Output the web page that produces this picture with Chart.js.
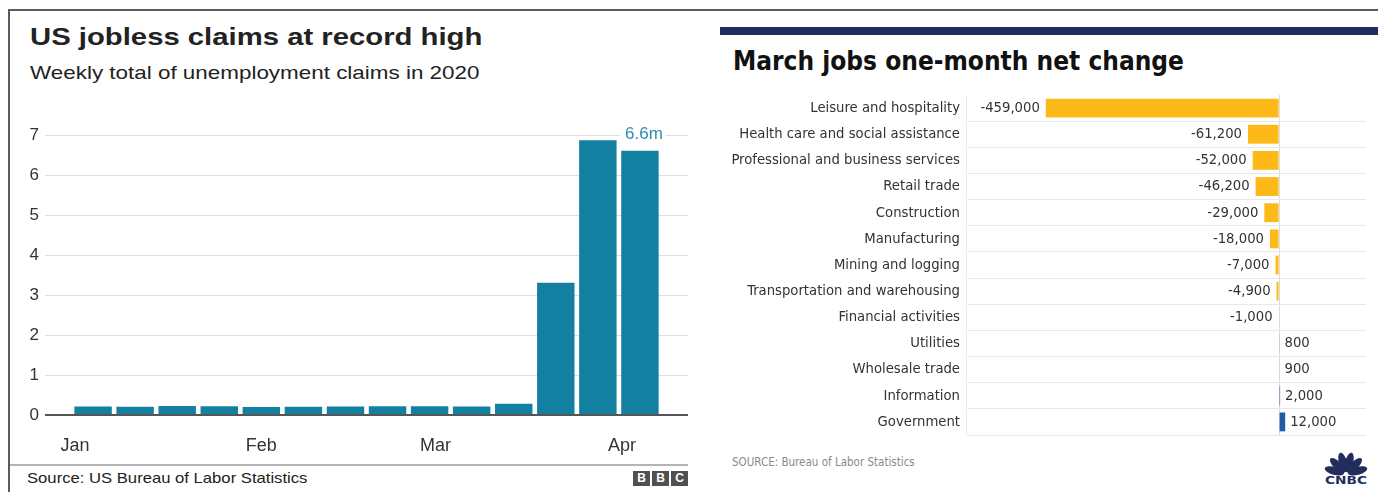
<!DOCTYPE html>
<html>
<head>
<meta charset="utf-8">
<script src="https://cdn.jsdelivr.net/npm/chart.js@4.4.1/dist/chart.umd.min.js"></script>
<style>
  body { margin: 0; background: #fff; width: 1378px; height: 492px; overflow: hidden; position: relative;
         font-family: "Liberation Sans", Arial, Helvetica, sans-serif; }
  .abs { position: absolute; white-space: nowrap; line-height: 1; }
  .wide { transform-origin: 0 0; }
  #frame-top { left: 8px; top: 9px; width: 1370px; height: 0; border-top: 2px solid #5c5c5c; }
  #frame-left { left: 8px; top: 9px; width: 0; height: 483px; border-left: 2px solid #5c5c5c; }

  /* BBC panel */
  #bbc-title { left: 30px; top: 25px; font-size: 24px; font-weight: bold; color: #222; transform: scaleX(1.22); }
  #bbc-sub { left: 30px; top: 63px; font-size: 19px; color: #222; transform: scaleX(1.18); }
  #bbc-chart { left: 0; top: 100px; }
  #bbc-rule { left: 10px; top: 464px; width: 678px; height: 0; border-top: 2px solid #b4b4b4; }
  #bbc-source { left: 27px; top: 470px; font-size: 15px; color: #222; transform: scaleX(1.11); }
  #bbc-logo { left: 633px; top: 471px; display: flex; gap: 2px; }
  #bbc-logo span { width: 17px; height: 15px; background: #505050; color: #fff; font-weight: bold;
                   font-size: 12px; line-height: 15px; text-align: center; }

  /* CNBC panel */
  #cnbc-band { left: 720px; top: 27px; width: 658px; height: 8px; background: #222d5e; }
  #cnbc-title { left: 733px; top: 48px; font-size: 26px; font-weight: bold; color: #111;
                font-family: "DejaVu Sans Condensed", "Liberation Sans", sans-serif; }
  #cnbc-chart { left: 700px; top: 90px; }
  #cnbc-source { left: 732px; top: 457px; font-size: 11.5px; color: #8a8a8a;
                 font-family: "DejaVu Sans Condensed", "Liberation Sans", sans-serif; }
  #cnbc-logo { left: 1321px; top: 445px; }
</style>
</head>
<body>
<div id="frame-top" class="abs"></div>
<div id="frame-left" class="abs"></div>

<div id="bbc-title" class="abs wide">US jobless claims at record high</div>
<div id="bbc-sub" class="abs wide">Weekly total of unemployment claims in 2020</div>
<canvas id="bbc-chart" class="abs" width="700" height="360"></canvas>
<div id="bbc-rule" class="abs"></div>
<div id="bbc-source" class="abs wide">Source: US Bureau of Labor Statistics</div>
<div id="bbc-logo" class="abs"><span>B</span><span>B</span><span>C</span></div>

<div id="cnbc-band" class="abs"></div>
<div id="cnbc-title" class="abs">March jobs one-month net change</div>
<canvas id="cnbc-chart" class="abs" width="678" height="352"></canvas>
<div id="cnbc-source" class="abs">SOURCE: Bureau of Labor Statistics</div>
<svg id="cnbc-logo" class="abs" width="50" height="42" viewBox="0 0 50 42">
  <g fill="#222d5e">
    <ellipse cx="25" cy="17" rx="4" ry="10" transform="rotate(-75 25 29)"/>
    <ellipse cx="25" cy="17" rx="4" ry="10" transform="rotate(-45 25 29)"/>
    <ellipse cx="25" cy="17" rx="4" ry="10" transform="rotate(-15 25 29)"/>
    <ellipse cx="25" cy="17" rx="4" ry="10" transform="rotate(15 25 29)"/>
    <ellipse cx="25" cy="17" rx="4" ry="10" transform="rotate(45 25 29)"/>
    <ellipse cx="25" cy="17" rx="4" ry="10" transform="rotate(75 25 29)"/>
    <text x="25" y="39" text-anchor="middle" font-family="DejaVu Sans" font-weight="bold" font-size="10"
          textLength="42" lengthAdjust="spacingAndGlyphs">CNBC</text>
  </g>
</svg>

<script>
// weekly initial claims, millions; x = days since 1 Jan 2020 (week ending)
const weekDays = [3, 10, 17, 24, 31, 38, 45, 52, 59, 66, 73, 80, 87, 94];
const claimsMillions = [0.212, 0.207, 0.223, 0.217, 0.201, 0.204, 0.214, 0.220, 0.217, 0.211, 0.282, 3.307, 6.867, 6.606];
const monthDays = [0, 31, 60, 91];
const monthLabels = ['Jan', 'Feb', 'Mar', 'Apr'];
const claimTicks = [0, 1, 2, 3, 4, 5, 6, 7];

// March payroll change by sector
const sectors = ['Leisure and hospitality', 'Health care and social assistance', 'Professional and business services',
  'Retail trade', 'Construction', 'Manufacturing', 'Mining and logging', 'Transportation and warehousing',
  'Financial activities', 'Utilities', 'Wholesale trade', 'Information', 'Government'];
const netChange = [-459000, -61200, -52000, -46200, -29000, -18000, -7000, -4900, -1000, 800, 900, 2000, 12000];

const bbcFont = '"Liberation Sans", Arial, Helvetica, sans-serif';
const cnbcFont = '"DejaVu Sans Condensed", "Liberation Sans", sans-serif';

Chart.defaults.animation = false;
Chart.defaults.responsive = false;
Chart.defaults.plugins.legend.display = false;
Chart.defaults.plugins.tooltip.enabled = false;

// "6.6m" callout above the latest week, knocking out the gridline behind it
const peakLabel = {
  id: 'peakLabel',
  afterDatasetsDraw(chart) {
    const i = claimsMillions.length - 1;
    const bar = chart.getDatasetMeta(0).data[i];
    const text = claimsMillions[i].toFixed(1) + 'm';
    const ctx = chart.ctx;
    ctx.save();
    ctx.font = '17px ' + bbcFont;
    const w = ctx.measureText(text).width;
    const cx = bar.x + 4, cy = bar.y - 16;
    ctx.fillStyle = '#fff';
    ctx.fillRect(cx - w / 2 - 5, cy - 7, w + 8, 14);
    ctx.fillStyle = '#2e8db4';
    ctx.textAlign = 'center';
    ctx.textBaseline = 'middle';
    ctx.fillText(text, cx, cy);
    ctx.restore();
  }
};

new Chart(document.getElementById('bbc-chart'), {
  type: 'bar',
  data: {
    datasets: [{
      data: weekDays.map((d, i) => ({ x: d, y: claimsMillions[i] })),
      backgroundColor: '#1380a1',
      categoryPercentage: 1,
      barPercentage: 0.89
    }]
  },
  options: {
    layout: { padding: { top: 35, right: 12, left: 0, bottom: 0 } },
    scales: {
      x: {
        type: 'linear',
        min: -5,
        max: 102,
        offset: false,
        grid: { display: false, drawTicks: false },
        border: { display: false },
        afterBuildTicks: scale => { scale.ticks = monthDays.map(v => ({ value: v })); },
        afterFit: scale => { scale.height = 45; },
        ticks: {
          autoSkip: false,
          maxRotation: 0,
          padding: 20,
          color: '#333',
          font: { family: bbcFont, size: 18 },
          callback: v => monthLabels[monthDays.indexOf(v)]
        }
      },
      y: {
        min: 0,
        max: 7,
        afterBuildTicks: scale => { scale.ticks = claimTicks.map(v => ({ value: v })); },
        afterFit: scale => { scale.width = 45; },
        border: { display: false },
        grid: {
          drawTicks: false,
          color: ctx => ctx.tick && ctx.tick.value === 0 ? '#555' : '#dedede',
          lineWidth: ctx => ctx.tick && ctx.tick.value === 0 ? 2 : 1
        },
        ticks: { padding: 6, color: '#333', font: { family: bbcFont, size: 17 } }
      }
    }
  },
  plugins: [peakLabel]
});

// value labels at the outer end of each sector bar
const valueLabels = {
  id: 'valueLabels',
  afterDatasetsDraw(chart) {
    const ctx = chart.ctx;
    ctx.save();
    ctx.font = '14.7px ' + cnbcFont;
    ctx.fillStyle = '#333';
    ctx.textBaseline = 'middle';
    chart.getDatasetMeta(0).data.forEach((bar, i) => {
      const v = netChange[i];
      const text = v.toLocaleString('en-US');
      if (v < 0) {
        ctx.textAlign = 'right';
        ctx.fillText(text, bar.x - 6, bar.y);
      } else {
        ctx.textAlign = 'left';
        ctx.fillText(text, bar.x + 5, bar.y);
      }
    });
    ctx.restore();
  }
};

new Chart(document.getElementById('cnbc-chart'), {
  type: 'bar',
  data: {
    labels: sectors,
    datasets: [{
      data: netChange,
      backgroundColor: netChange.map(v => v < 0 ? '#fcb918' : '#1d5ba3'),
      categoryPercentage: 1,
      barPercentage: 0.72
    }]
  },
  options: {
    indexAxis: 'y',
    layout: { padding: { top: 5, right: 12, left: 0, bottom: 7 } },
    scales: {
      x: {
        type: 'linear',
        min: -616000,
        max: 171000,
        afterBuildTicks: scale => { scale.ticks = [{ value: 0 }]; },
        afterFit: scale => { scale.height = 0; scale.paddingLeft = 0; scale.paddingRight = 0; },
        ticks: { display: false },
        border: { display: false },
        grid: { drawTicks: false, color: '#dcdcdc' }
      },
      y: {
        afterFit: scale => { scale.width = 266; scale.paddingTop = 0; scale.paddingBottom = 0; },
        border: { display: true, color: '#ececec' },
        grid: {
          drawTicks: false,
          color: ctx => ctx.index === 0 ? 'rgba(0,0,0,0)' : '#e8e8e8'
        },
        ticks: { padding: 6, color: '#333', font: { family: cnbcFont, size: 14.7 } }
      }
    }
  },
  plugins: [valueLabels]
});
</script>
</body>
</html>
